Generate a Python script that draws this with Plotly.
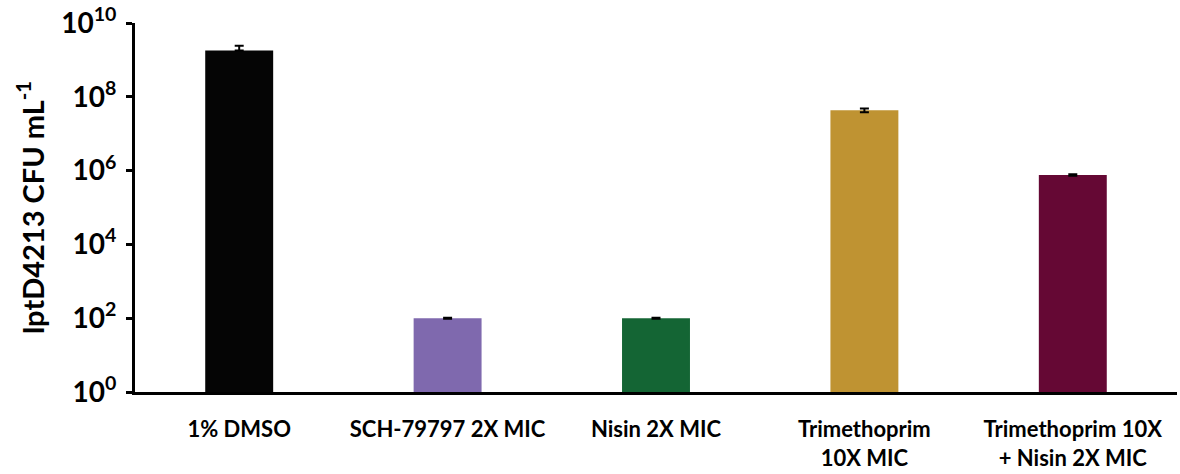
import plotly.graph_objects as go

# Colony counts (CFU/mL) per treatment, with error bar sizes
categories = ["1% DMSO", "SCH-79797 2X MIC", "Nisin 2X MIC",
              "Trimethoprim<br>10X MIC", "Trimethoprim 10X<br>+ Nisin 2X MIC"]
cfu_values = [1.8e9, 100, 100, 4.3e7, 7.6e5]
cfu_err_plus = [0.6e9, 3, 3, 0.5e7, 0.4e5]
cfu_err_minus = [0, 3, 3, 0.5e7, 0.4e5]
bar_colors = ["#050505", "#7F69AE", "#146534", "#BF9332", "#650834"]

tick_exponents = [0, 2, 4, 6, 8, 10]
tick_values = [10 ** e for e in tick_exponents]
tick_labels = [f"10<sup>{e}</sup>" for e in tick_exponents]

font_family = "Lato"

fig = go.Figure()
fig.add_trace(go.Bar(
    x=categories,
    y=cfu_values,
    marker=dict(color=bar_colors, line=dict(width=0)),
    error_y=dict(type="data", array=cfu_err_plus, arrayminus=cfu_err_minus,
                 symmetric=False, color="#000000", thickness=2, width=4.5),
    showlegend=False,
))

fig.update_layout(
    width=1180, height=474,
    margin=dict(l=135, r=3, t=23, b=82),
    paper_bgcolor="white", plot_bgcolor="white",
    bargap=0.674,
    font=dict(family=font_family, color="#000000"),
    xaxis=dict(
        showline=True, linecolor="#000000", linewidth=3,
        ticks="", showgrid=False, zeroline=False,
        tickfont=dict(family=font_family, size=22, weight="bold", color="#000000"),
        tickangle=0, ticklabelstandoff=16,
    ),
    yaxis=dict(
        type="log", range=[0, 10],
        tickvals=tick_values, ticktext=tick_labels,
        showline=True, linecolor="#000000", linewidth=3,
        ticks="outside", ticklen=6, tickwidth=3, tickcolor="#000000",
        showgrid=False, zeroline=False,
        tickfont=dict(family=font_family, size=28, weight="bold", color="#000000"),
        ticklabelstandoff=4,
        title=dict(text="lptD4213 CFU mL<sup>-1</sup>",
                   font=dict(family=font_family, size=29, weight="bold", color="#000000"),
                   standoff=9),
    ),
)

fig.write_html("out.html")
